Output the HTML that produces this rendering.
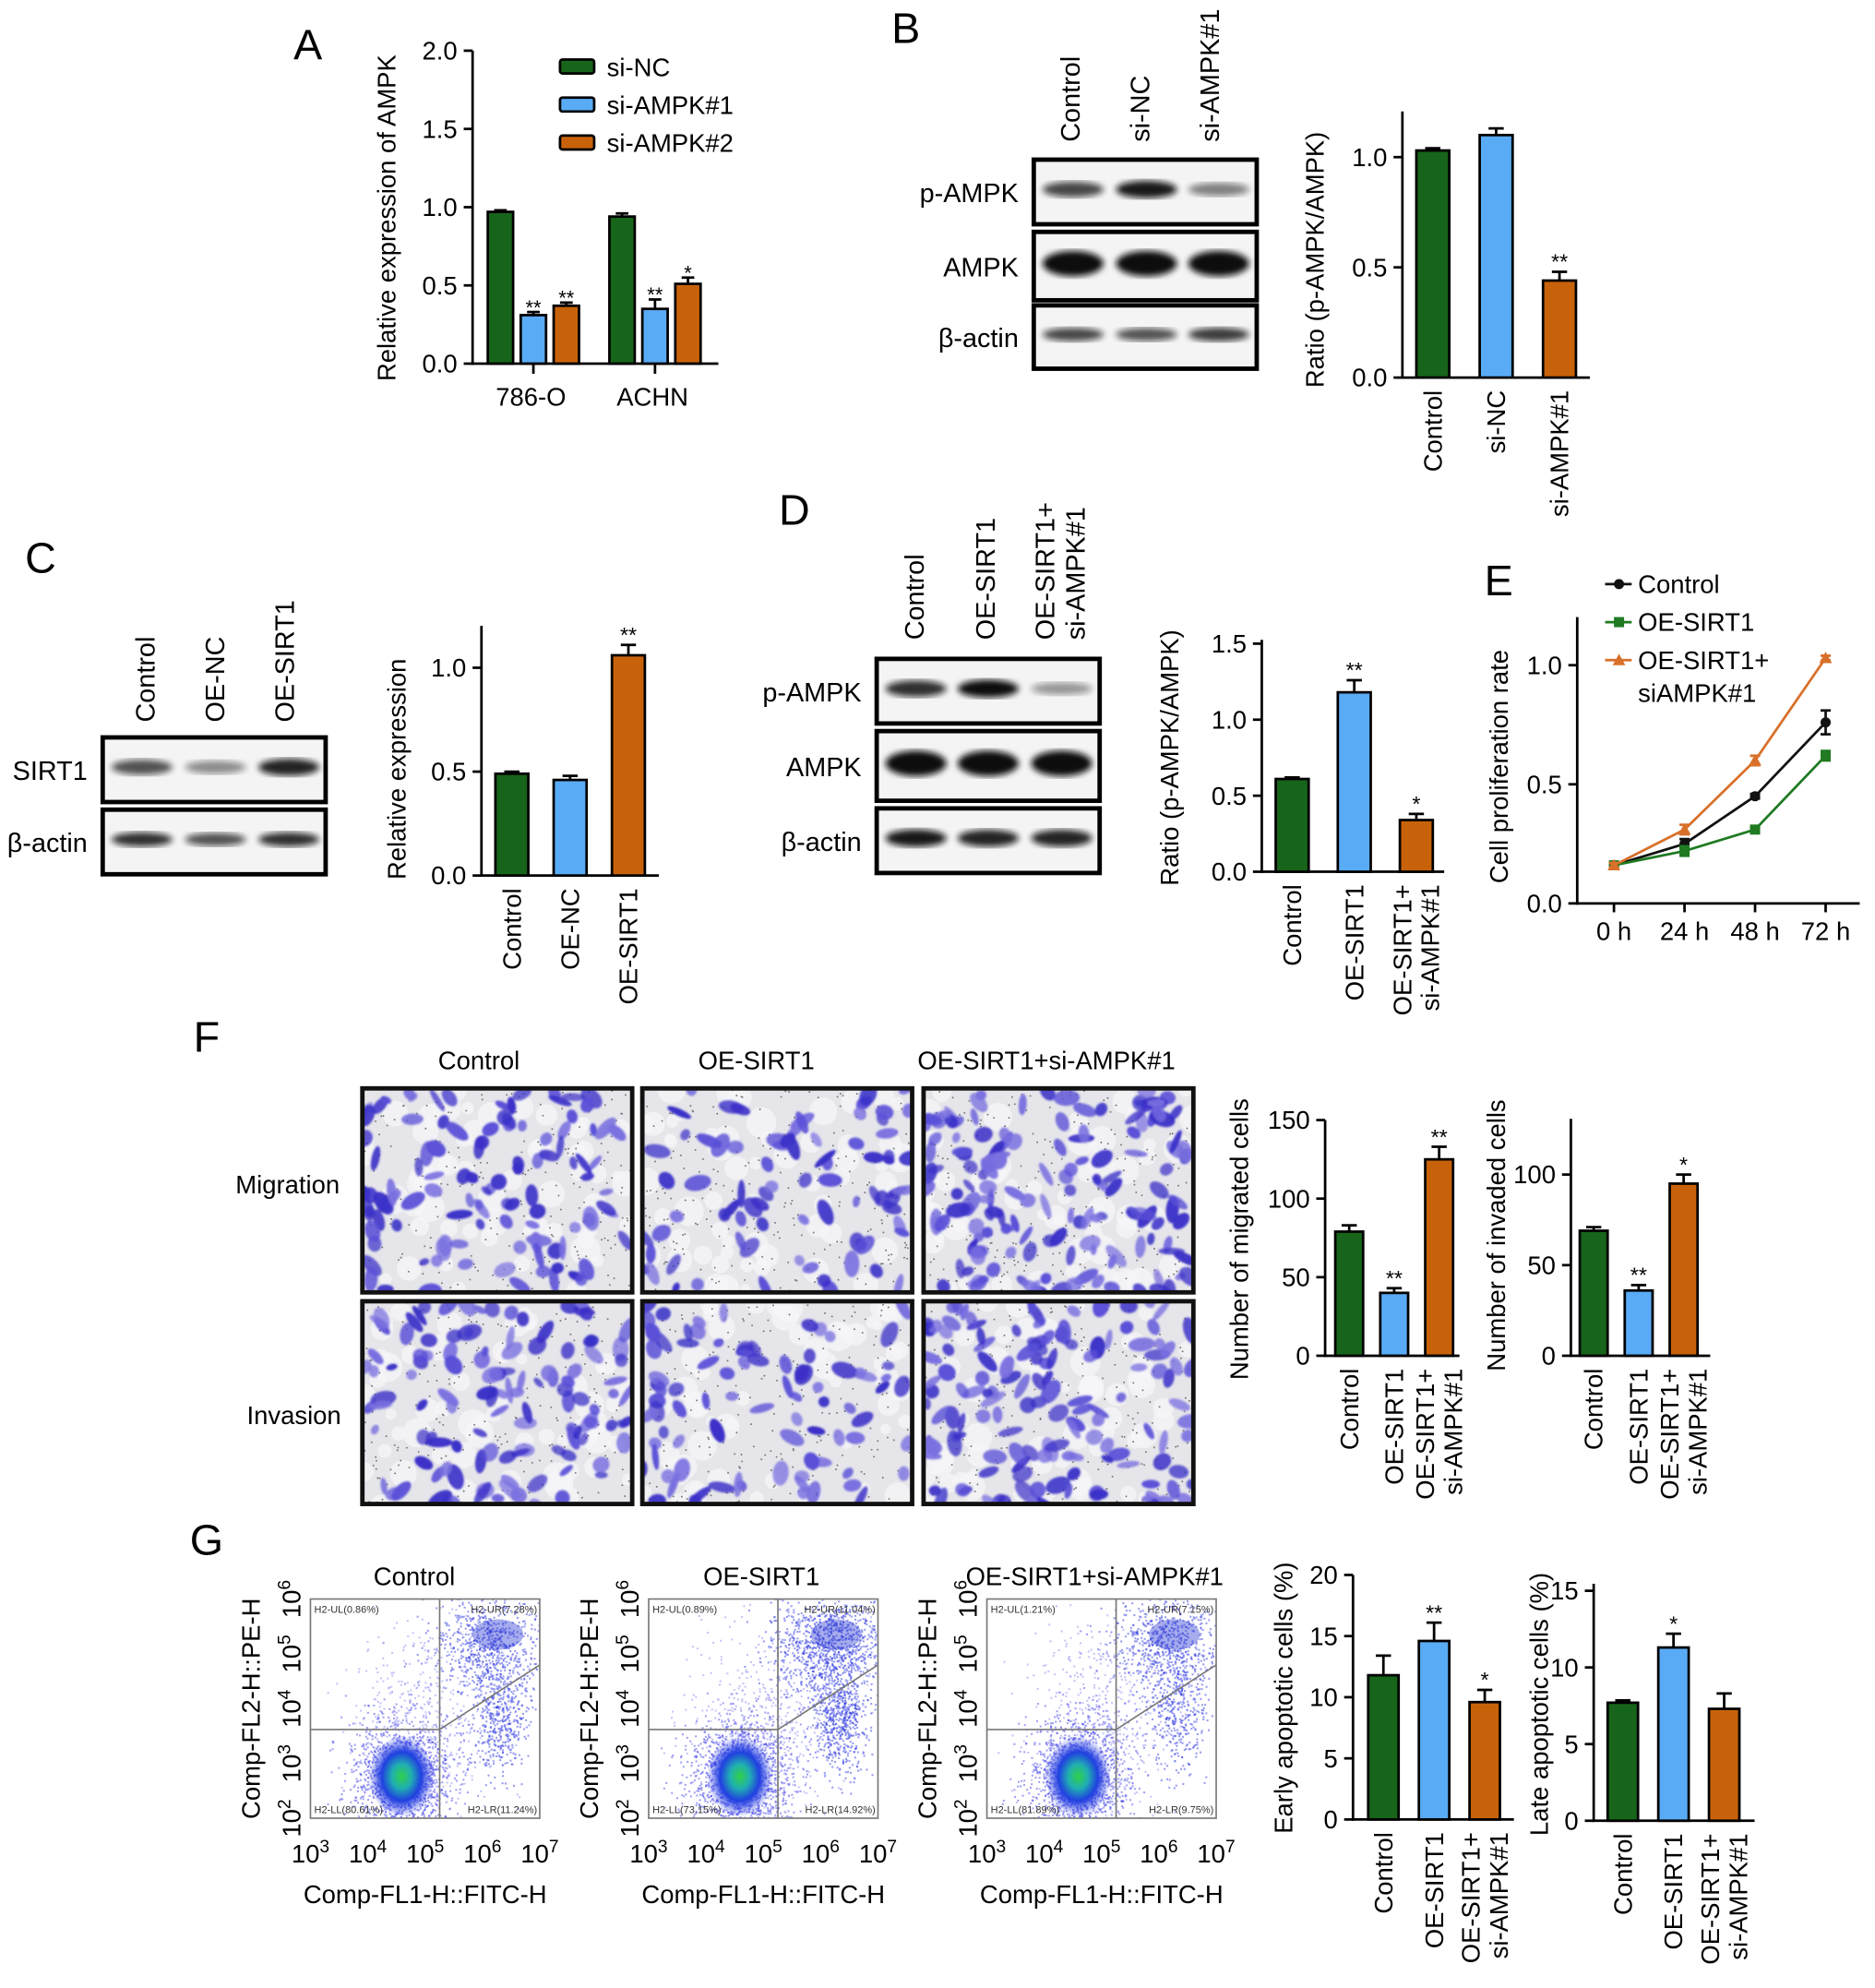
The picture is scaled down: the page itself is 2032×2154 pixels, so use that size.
<!DOCTYPE html>
<html><head><meta charset="utf-8">
<style>
html,body{margin:0;padding:0;background:#fff;}
svg{display:block;font-family:"Liberation Sans",Arial,sans-serif;}
</style></head>
<body>
<svg id="fig" xmlns="http://www.w3.org/2000/svg" width="2032" height="2154" viewBox="0 0 1480 1569">
<defs>
<filter id="blur2"><feGaussianBlur stdDeviation="2.5"/></filter>
<filter id="blur1"><feGaussianBlur stdDeviation="0.8"/></filter>
<radialGradient id="core">
<stop offset="0" stop-color="#2fd04a"/>
<stop offset="0.3" stop-color="#20b0b0"/>
<stop offset="0.6" stop-color="#2040e0"/>
<stop offset="1" stop-color="#3040e0" stop-opacity="0"/>
</radialGradient>
</defs>
</svg>
<script>
// ---- Data ----
const colors = ['#17641b', '#5aabf5', '#c8620a'];
const aGroups = ['786-O', 'ACHN'];
const aLegend = ['si-NC', 'si-AMPK#1', 'si-AMPK#2'];
const aValues = [[0.97, 0.31, 0.37], [0.94, 0.35, 0.51]];
const aErrors = [[0.01, 0.02, 0.02], [0.02, 0.06, 0.04]];
const aStars = [['', '**', '**'], ['', '**', '*']];
const aTicks = [0, 0.5, 1.0, 1.5, 2.0];

const bCats = ['Control', 'si-NC', 'si-AMPK#1'];
const bValues = [1.03, 1.10, 0.44];
const bErrors = [0.01, 0.03, 0.04];
const bStars = ['', '', '**'];
const bTicks = [0, 0.5, 1.0];

const cCats = ['Control', 'OE-NC', 'OE-SIRT1'];
const cValues = [0.49, 0.46, 1.06];
const cErrors = [0.01, 0.02, 0.05];
const cStars = ['', '', '**'];
const cTicks = [0, 0.5, 1.0];

const dCats = ['Control', 'OE-SIRT1', 'OE-SIRT1+|si-AMPK#1'];
const dValues = [0.61, 1.18, 0.34];
const dErrors = [0.01, 0.08, 0.04];
const dStars = ['', '**', '*'];
const dTicks = [0, 0.5, 1.0, 1.5];

const eTimes = ['0 h', '24 h', '48 h', '72 h'];
const eSeries = ['Control', 'OE-SIRT1', 'OE-SIRT1+|siAMPK#1'];
const eControl = [0.16, 0.25, 0.45, 0.76];
const eOE = [0.16, 0.22, 0.31, 0.62];
const eOEsi = [0.16, 0.31, 0.60, 1.03];
const eControlErr = [0.01, 0.02, 0.01, 0.05];
const eOEErr = [0.01, 0.02, 0.01, 0.02];
const eOEsiErr = [0.01, 0.02, 0.02, 0.01];
const eTicks = [0, 0.5, 1.0];

const fCats = ['Control', 'OE-SIRT1', 'OE-SIRT1+|si-AMPK#1'];
const fMigValues = [79, 40, 125];
const fMigErrors = [4, 3, 8];
const fMigStars = ['', '**', '**'];
const fMigTicks = [0, 50, 100, 150];
const fInvValues = [69, 36, 95];
const fInvErrors = [2, 3, 5];
const fInvStars = ['', '**', '*'];
const fInvTicks = [0, 50, 100];

const gEarlyValues = [11.8, 14.6, 9.6];
const gEarlyErrors = [1.6, 1.5, 1.0];
const gEarlyStars = ['', '**', '*'];
const gEarlyTicks = [0, 5, 10, 15, 20];
const gLateValues = [7.7, 11.3, 7.3];
const gLateErrors = [0.15, 0.9, 1.0];
const gLateStars = ['', '*', ''];
const gLateTicks = [0, 5, 10, 15];
const gQuadUL = ['0.86%', '0.89%', '1.21%'];
const gQuadUR = ['7.28%', '11.04%', '7.15%'];
const gQuadLL = ['80.61%', '73.15%', '81.89%'];
const gQuadLR = ['11.24%', '14.92%', '9.75%'];

// ---- Helpers ----
const NS = 'http://www.w3.org/2000/svg';
const svg = document.getElementById('fig');
function mk(tag, parent) { const e = document.createElementNS(NS, tag); (parent || svg).appendChild(e); return e; }
function txt(parent, x, y, s, size, anchor, rot) {
  const t = mk('text', parent);
  t.setAttribute('x', 0); t.setAttribute('y', 0);
  t.setAttribute('font-size', size);
  t.setAttribute('text-anchor', anchor || 'middle');
  t.setAttribute('transform', 'translate(' + x + ',' + y + ')' + (rot ? ' rotate(' + rot + ')' : ''));
  t.textContent = s;
  return t;
}
function line(parent, x1, y1, x2, y2, w, c) {
  const l = mk('line', parent);
  l.setAttribute('x1', x1); l.setAttribute('y1', y1); l.setAttribute('x2', x2); l.setAttribute('y2', y2);
  l.setAttribute('stroke', c || '#000'); l.setAttribute('stroke-width', w || 2);
  return l;
}
function letter(s, x, y) {
  const t = txt(svg, x, y, s, 34, 'middle');
  
  
}

function barChart(name, o) {
  const g = mk('g');
  
  
  const yS = v => o.y0 - v * o.ppu;
  const xS = i => o.x0 + o.pad + i * o.step;
  const ya = line(g, o.x0, o.y0 + 1, o.x0, o.yTop, 2);
   
  const xa = line(g, o.x0 - 1, o.y0, o.x1, o.y0, 2);
   
  o.ticks.forEach(t => {
    line(g, o.x0 - 7, yS(t), o.x0, yS(t), 2);
    const tl = txt(g, o.x0 - 12, yS(t) + 7, o.fmt(t), 20, 'end');
     
  });
  const yt = txt(g, o.titleX, o.titleY, o.title, 20, 'middle', -90);
   
  o.values.forEach((v, i) => {
    const cx = xS(i);
    const r = mk('rect', g);
    r.setAttribute('x', cx - o.bw / 2); r.setAttribute('y', yS(v));
    r.setAttribute('width', o.bw); r.setAttribute('height', o.y0 - yS(v));
    r.setAttribute('fill', colors[i]); r.setAttribute('stroke', '#000'); r.setAttribute('stroke-width', 2);
    
    
    const et = yS(v + o.errors[i]);
    line(g, cx, yS(v), cx, et, 2);
    line(g, cx - 6, et, cx + 6, et, 2);
    if (o.stars[i]) {
      const st = txt(g, cx, et - 2, o.stars[i], 17, 'middle');
       
    }
    const parts = o.cats[i].split('|');
    parts.forEach((p, k) => {
      const off = parts.length === 1 ? 7 : (k === 0 ? -4 : 18);
      const cl = txt(g, cx + off, o.y0 + 10, p, 20, 'end', -90);
       
    });
  });
  return g;
}

function blot(name, x, rows, colLabels, colX, labelBottom, lanes) {
  const g = mk('g');
  
  
  colLabels.forEach((c, i) => {
    const parts = c.split('|');
    parts.forEach((p, k) => {
      const off = parts.length === 1 ? 7 : (k === 0 ? -4 : 20);
      const t = txt(g, colX[i] + off, labelBottom, p, 21, 'start', -90);
       
    });
  });
  rows.forEach(r => {
    const rc = mk('rect', g);
    rc.setAttribute('x', x); rc.setAttribute('y', r.y); rc.setAttribute('width', 176); rc.setAttribute('height', r.h);
    rc.setAttribute('fill', '#f4f4f4'); rc.setAttribute('stroke', '#000'); rc.setAttribute('stroke-width', 3.5);
     
    const lb = txt(g, x - 12, r.y + r.h / 2 + 8, r.label, 21, 'end');
     
    r.int.forEach((a, i) => {
      const e = mk('ellipse', g);
      e.setAttribute('cx', lanes[i]); e.setAttribute('cy', r.y + r.h / 2 - 2);
      e.setAttribute('rx', 24); e.setAttribute('ry', r.thick * (0.5 + a / 2));
      e.setAttribute('fill', '#111'); e.setAttribute('opacity', a);
      e.setAttribute('filter', 'url(#blur2)');
       
    });
  });
}

let seed = 12345;
function rnd() { seed = (seed * 1103515245 + 12345) % 2147483648; return seed / 2147483648; }
function gauss() { let u = rnd() || 1e-6, v = rnd(); return Math.sqrt(-2 * Math.log(u)) * Math.cos(2 * Math.PI * v); }

// ---- Panel A ----
letter('A', 243, 47);
(function () {
  const g = mk('g');
   
  const x0 = 373, y0 = 287, ppu = 123.5;
  const yS = v => y0 - v * ppu;
  const gx = i => 395 + i * 96;
  line(g, x0, y0 + 1, x0, yS(2.0), 2);
  line(g, x0 - 1, y0, 567, y0, 2);
  aTicks.forEach(t => {
    line(g, x0 - 7, yS(t), x0, yS(t), 2);
    const tl = txt(g, x0 - 12, yS(t) + 7, t.toFixed(1), 20, 'end');
     
  });
  const yt = txt(g, 312, 172, 'Relative expression of AMPK', 20, 'middle', -90);
   
  aGroups.forEach((grp, gi) => {
    line(g, gx(gi) + 26, y0, gx(gi) + 26, y0 + 8, 2);
    const gl = txt(g, gx(gi) + 24, 320, grp, 20, 'middle');
     
    aValues[gi].forEach((v, i) => {
      const cx = gx(gi) + i * 26;
      const r = mk('rect', g);
      r.setAttribute('x', cx - 10); r.setAttribute('y', yS(v)); r.setAttribute('width', 20); r.setAttribute('height', y0 - yS(v));
      r.setAttribute('fill', colors[i]); r.setAttribute('stroke', '#000'); r.setAttribute('stroke-width', 2);
       
      const et = yS(v + aErrors[gi][i]);
      line(g, cx, yS(v), cx, et, 2); line(g, cx - 5, et, cx + 5, et, 2);
      if (aStars[gi][i]) {
        const st = txt(g, cx, et + 2, aStars[gi][i], 16, 'middle');
         
      }
    });
  });
  aLegend.forEach((s, i) => {
    const r = mk('rect', g);
    r.setAttribute('x', 442); r.setAttribute('y', 47 + i * 30); r.setAttribute('width', 27); r.setAttribute('height', 11);
    r.setAttribute('rx', 2); r.setAttribute('fill', colors[i]); r.setAttribute('stroke', '#000'); r.setAttribute('stroke-width', 2);
     
    const t = txt(g, 479, 60 + i * 30, s, 20, 'start');
     
  });
})();

// ---- Panel B ----
letter('B', 715, 34);
blot('panel-b-blot', 816, [
  { label: 'p-AMPK', y: 126, h: 51, int: [0.75, 0.95, 0.5], thick: 7 },
  { label: 'AMPK', y: 183, h: 54, int: [1, 1, 1], thick: 10 },
  { label: 'β-actin', y: 241, h: 50, int: [0.75, 0.7, 0.8], thick: 6 }
], ['Control', 'si-NC', 'si-AMPK#1'], [845, 900, 955], 112, [847, 905, 962]);
barChart('panel-b-chart', { x0: 1107, x1: 1255, y0: 298, yTop: 88, ppu: 174, pad: 24, step: 50, bw: 26,
  ticks: bTicks, fmt: t => t.toFixed(1), title: 'Ratio (p-AMPK/AMPK)', titleX: 1045, titleY: 205,
  cats: bCats, values: bValues, errors: bErrors, stars: bStars });

// ---- Panel C ----
letter('C', 32, 452);
blot('panel-c-blot', 81, [
  { label: 'SIRT1', y: 582, h: 51, int: [0.7, 0.45, 0.9], thick: 7 },
  { label: 'β-actin', y: 639, h: 51, int: [0.85, 0.7, 0.85], thick: 6 }
], ['Control', 'OE-NC', 'OE-SIRT1'], [115, 170, 225], 570, [112, 170, 228]);
barChart('panel-c-chart', { x0: 380, x1: 520, y0: 691, yTop: 494, ppu: 164, pad: 24, step: 46, bw: 26,
  ticks: cTicks, fmt: t => t.toFixed(1), title: 'Relative expression', titleX: 320, titleY: 607,
  cats: cCats, values: cValues, errors: cErrors, stars: cStars });

// ---- Panel D ----
letter('D', 627, 414);
blot('panel-d-blot', 692, [
  { label: 'p-AMPK', y: 520, h: 51, int: [0.85, 1, 0.4], thick: 7 },
  { label: 'AMPK', y: 577, h: 55, int: [1, 1, 1], thick: 10 },
  { label: 'β-actin', y: 638, h: 51, int: [0.95, 0.9, 0.9], thick: 7 }
], ['Control', 'OE-SIRT1', 'OE-SIRT1+|si-AMPK#1'], [722, 778, 836], 505, [723, 780, 838]);
barChart('panel-d-chart', { x0: 996, x1: 1140, y0: 688, yTop: 505, ppu: 120, pad: 24, step: 49, bw: 26,
  ticks: dTicks, fmt: t => t.toFixed(1), title: 'Ratio (p-AMPK/AMPK)', titleX: 930, titleY: 598,
  cats: dCats, values: dValues, errors: dErrors, stars: dStars });

// ---- Panel E ----
letter('E', 1183, 470);
(function () {
  const g = mk('g');
   
  const x0 = 1245, y0 = 713, ppu = 188;
  const yS = v => y0 - v * ppu;
  const xS = i => 1274 + i * 55.7;
  line(g, x0, y0 + 1, x0, 487, 2);
  line(g, x0 - 1, y0, 1468, y0, 2);
  eTicks.forEach(t => {
    line(g, x0 - 7, yS(t), x0, yS(t), 2);
    const tl = txt(g, x0 - 12, yS(t) + 7, t.toFixed(1), 20, 'end');
     
  });
  eTimes.forEach((t, i) => {
    line(g, xS(i), y0, xS(i), y0 + 7, 2);
    const tl = txt(g, xS(i), 742, t, 20, 'middle');
     
  });
  const yt = txt(g, 1190, 605, 'Cell proliferation rate', 20, 'middle', -90);
   
  const sc = ['#111', '#1f7a22', '#d8702a'];
  const sv = [eControl, eOE, eOEsi];
  const se = [eControlErr, eOEErr, eOEsiErr];
  sv.forEach((vals, s) => {
    const p = mk('polyline', g);
    p.setAttribute('points', vals.map((v, i) => xS(i) + ',' + yS(v)).join(' '));
    p.setAttribute('fill', 'none'); p.setAttribute('stroke', sc[s]); p.setAttribute('stroke-width', 2);
    
    
    vals.forEach((v, i) => {
      line(g, xS(i), yS(v - se[s][i]), xS(i), yS(v + se[s][i]), 2, sc[s]);
      line(g, xS(i) - 4, yS(v + se[s][i]), xS(i) + 4, yS(v + se[s][i]), 2, sc[s]);
      line(g, xS(i) - 4, yS(v - se[s][i]), xS(i) + 4, yS(v - se[s][i]), 2, sc[s]);
      let m;
      if (s === 0) { m = mk('circle', g); m.setAttribute('cx', xS(i)); m.setAttribute('cy', yS(v)); m.setAttribute('r', 4); }
      else if (s === 1) { m = mk('rect', g); m.setAttribute('x', xS(i) - 4); m.setAttribute('y', yS(v) - 4); m.setAttribute('width', 8); m.setAttribute('height', 8); }
      else { m = mk('polygon', g); const X = xS(i), Y = yS(v); m.setAttribute('points', X + ',' + (Y - 5) + ' ' + (X - 5) + ',' + (Y + 4) + ' ' + (X + 5) + ',' + (Y + 4)); }
      m.setAttribute('fill', sc[s]);
       
    });
    const ly = 461 + s * 30;
    line(g, 1267, ly, 1288, ly, 2, sc[s]);
    let lm;
    if (s === 0) { lm = mk('circle', g); lm.setAttribute('cx', 1278); lm.setAttribute('cy', ly); lm.setAttribute('r', 4); }
    else if (s === 1) { lm = mk('rect', g); lm.setAttribute('x', 1274); lm.setAttribute('y', ly - 4); lm.setAttribute('width', 8); lm.setAttribute('height', 8); }
    else { lm = mk('polygon', g); lm.setAttribute('points', '1278,' + (ly - 5) + ' 1273,' + (ly + 4) + ' 1283,' + (ly + 4)); }
    lm.setAttribute('fill', sc[s]);
     
    eSeries[s].split('|').forEach((p, k) => {
      const t = txt(g, 1293, ly + 7 + k * 26, p, 20, 'start');
       
    });
  });
})();

// ---- Panel F ----
letter('F', 163, 830);
(function () {
  const g = mk('g');
   
  const cols = [[286, 499, 'Control', 378], [507, 720, 'OE-SIRT1', 597], [729, 942, 'OE-SIRT1+si-AMPK#1', 826]];
  const rows = [[859, 1020, 'Migration', 227, 942], [1027, 1187, 'Invasion', 232, 1124]];
  const dens = [[110, 80, 150], [120, 85, 135]];
  cols.forEach(c => {
    const t = txt(g, c[3], 844, c[2], 20, 'middle');
     
  });
  rows.forEach((r, ri) => {
    const t = txt(g, r[3], r[4], r[2], 20, 'middle');
     
    cols.forEach((c, ci) => {
      const id = 'clip' + ri + ci;
      const cp = mk('clipPath', g); cp.setAttribute('id', id);
      const cr = mk('rect', cp); cr.setAttribute('x', c[0]); cr.setAttribute('y', r[0]); cr.setAttribute('width', c[1] - c[0]); cr.setAttribute('height', r[1] - r[0]);
      const im = mk('g', g); im.setAttribute('clip-path', 'url(#' + id + ')');
       
      const bg = mk('rect', im); bg.setAttribute('x', c[0]); bg.setAttribute('y', r[0]); bg.setAttribute('width', c[1] - c[0]); bg.setAttribute('height', r[1] - r[0]); bg.setAttribute('fill', '#e6e6ea');
      for (let k = 0; k < 60; k++) {
        const d = mk('circle', im); d.setAttribute('cx', c[0] + rnd() * 213); d.setAttribute('cy', r[0] + rnd() * 161); d.setAttribute('r', 4 + rnd() * 8); d.setAttribute('fill', '#f6f6f8'); d.setAttribute('opacity', 0.7);
      }
      for (let k = 0; k < 250; k++) {
        const d = mk('circle', im); d.setAttribute('cx', c[0] + rnd() * 213); d.setAttribute('cy', r[0] + rnd() * 161); d.setAttribute('r', 0.7); d.setAttribute('fill', '#777');
      }
      const cg = mk('g', im); cg.setAttribute('filter', 'url(#blur1)');
      for (let k = 0; k < dens[ri][ci]; k++) {
        const e = mk('ellipse', cg);
        const cx = c[0] + rnd() * 213, cy = r[0] + rnd() * 161;
        e.setAttribute('cx', cx); e.setAttribute('cy', cy);
        e.setAttribute('rx', 4 + rnd() * 7); e.setAttribute('ry', 2.5 + rnd() * 4);
        e.setAttribute('transform', 'rotate(' + (rnd() * 180) + ' ' + cx + ' ' + cy + ')');
        const rr = rnd();
        e.setAttribute('fill', rr > 0.6 ? '#3a30c8' : (rr > 0.3 ? '#5a50d8' : '#7a70e0')); e.setAttribute('opacity', 0.7 + rnd() * 0.3);
      }
      const fr = mk('rect', g); fr.setAttribute('x', c[0]); fr.setAttribute('y', r[0]); fr.setAttribute('width', c[1] - c[0]); fr.setAttribute('height', r[1] - r[0]);
      fr.setAttribute('fill', 'none'); fr.setAttribute('stroke', '#111'); fr.setAttribute('stroke-width', 3.5);
    });
  });
})();
barChart('panel-f-migration-chart', { x0: 1046, x1: 1152, y0: 1070, yTop: 884, ppu: 1.24, pad: 19, step: 35.5, bw: 22,
  ticks: fMigTicks, fmt: t => String(t), title: 'Number of migrated cells', titleX: 985, titleY: 978,
  cats: fCats, values: fMigValues, errors: fMigErrors, stars: fMigStars });
barChart('panel-f-invasion-chart', { x0: 1240, x1: 1350, y0: 1070, yTop: 883, ppu: 1.43, pad: 18, step: 35.5, bw: 22,
  ticks: fInvTicks, fmt: t => String(t), title: 'Number of invaded cells', titleX: 1188, titleY: 975,
  cats: fCats, values: fInvValues, errors: fInvErrors, stars: fInvStars });

// ---- Panel G ----
letter('G', 163, 1227);
(function () {
  const plots = [[245, 'Control', 327], [512, 'OE-SIRT1', 601], [779, 'OE-SIRT1+si-AMPK#1', 864]];
  const urW = [1, 1.4, 1], lrW = [1, 1.4, 0.8];
  plots.forEach((p, pi) => {
    const x = p[0], y = 1262, w = 181, h = 173;
    const g = mk('g');
    
    
    const t = txt(g, p[2], 1251, p[1], 20, 'middle');
     
    const cp = mk('clipPath', g); cp.setAttribute('id', 'fc' + pi);
    const cr = mk('rect', cp); cr.setAttribute('x', x); cr.setAttribute('y', y); cr.setAttribute('width', w); cr.setAttribute('height', h);
    const pg = mk('g', g); pg.setAttribute('clip-path', 'url(#fc' + pi + ')');
    const vx = x + 102, hy = y + 103;
    function cloud(cx, cy, sx, sy, n, col) {
      for (let k = 0; k < n; k++) {
        const d = mk('rect', pg);
        d.setAttribute('x', cx + gauss() * sx); d.setAttribute('y', cy + gauss() * sy);
        d.setAttribute('width', 1.5); d.setAttribute('height', 1.5); d.setAttribute('fill', col);
      }
    }
    cloud(x + 72, y + 140, 20, 24, 1400, 'rgba(50,50,230,0.45)');
    cloud(x + 90, y + 100, 30, 40, 500, 'rgba(90,90,235,0.35)');
    cloud(x + 140, y + 35, 22, 20, Math.round(700 * urW[pi]), 'rgba(50,60,225,0.5)');
    cloud(x + 150, y + 92, 11, 22, Math.round(450 * lrW[pi]), 'rgba(50,60,225,0.5)');
    const core = mk('ellipse', pg); core.setAttribute('cx', x + 72); core.setAttribute('cy', y + 140);
    core.setAttribute('rx', 26); core.setAttribute('ry', 32); core.setAttribute('fill', 'url(#core)');
    const ur = mk('ellipse', pg); ur.setAttribute('cx', x + 148); ur.setAttribute('cy', y + 28);
    ur.setAttribute('rx', 20); ur.setAttribute('ry', 12); ur.setAttribute('fill', '#2030d0'); ur.setAttribute('opacity', 0.4);
    const fr = mk('rect', g); fr.setAttribute('x', x); fr.setAttribute('y', y); fr.setAttribute('width', w); fr.setAttribute('height', h);
    fr.setAttribute('fill', 'none'); fr.setAttribute('stroke', '#777'); fr.setAttribute('stroke-width', 1.2);
    line(g, vx, y, vx, y + h, 1.2, '#777');
    line(g, x, hy, vx, hy, 1.2, '#777');
    line(g, vx, hy, x + w, y + 52, 1.2, '#777');
    const q = [[x + 3, y + 11, 'H2-UL(' + gQuadUL[pi] + ')', 'start'], [x + w - 2, y + 11, 'H2-UR(' + gQuadUR[pi] + ')', 'end'],
      [x + 3, y + h - 4, 'H2-LL(' + gQuadLL[pi] + ')', 'start'], [x + w - 2, y + h - 4, 'H2-LR(' + gQuadLR[pi] + ')', 'end']];
    q.forEach(qq => {
      const qt = txt(g, qq[0], qq[1], qq[2], 8, qq[3]);
      qt.setAttribute('fill', '#333');
       
    });
    [2, 3, 4, 5, 6].forEach((e, i) => {
      const ty = y + h - i * (h / 4);
      const tt = txt(g, x - 8, ty, '', 20, 'middle', -90);
      tt.textContent = '10';
      const sp = mk('tspan', tt); sp.setAttribute('dy', -8); sp.setAttribute('font-size', 14); sp.textContent = e;
       
    });
    [3, 4, 5, 6, 7].forEach((e, i) => {
      const tx = x + i * (w / 4);
      const tt = txt(g, tx, y + h + 35, '', 20, 'middle');
      tt.textContent = '10';
      const sp = mk('tspan', tt); sp.setAttribute('dy', -8); sp.setAttribute('font-size', 14); sp.textContent = e;
       
    });
    const yt = txt(g, x - 40, y + h / 2, 'Comp-FL2-H::PE-H', 20, 'middle', -90);
     
    const xt = txt(g, x + w / 2, 1502, 'Comp-FL1-H::FITC-H', 20, 'middle');
     
  });
})();
barChart('panel-g-early-chart', { x0: 1068, x1: 1195, y0: 1436, yTop: 1243, ppu: 9.65, pad: 24, step: 40, bw: 24,
  ticks: gEarlyTicks, fmt: t => String(t), title: 'Early apoptotic cells (%)', titleX: 1020, titleY: 1340,
  cats: fCats, values: gEarlyValues, errors: gEarlyErrors, stars: gEarlyStars });
barChart('panel-g-late-chart', { x0: 1258, x1: 1385, y0: 1437, yTop: 1250, ppu: 12.1, pad: 23, step: 40, bw: 24,
  ticks: gLateTicks, fmt: t => String(t), title: 'Late apoptotic cells (%)', titleX: 1222, titleY: 1345,
  cats: fCats, values: gLateValues, errors: gLateErrors, stars: gLateStars });
</script>
</body></html>
